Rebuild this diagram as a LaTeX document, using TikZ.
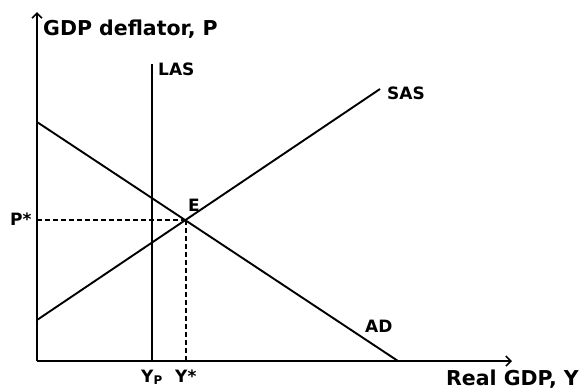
\documentclass[tikz,border=0pt]{standalone}
\usepackage{fontspec}
\setmainfont{DejaVu Sans}
\usetikzlibrary{arrows.meta, positioning}

\tikzset{
  curve/.style={line width=1.9pt},
  axis/.style={curve, -{Straight Barb[length=5pt, width=10pt, line width=1.6pt]}},
  guide/.style={line width=1.5pt, dash pattern=on 5pt off 3pt},
  axislabel/.style={font=\fontsize{20.5}{24}\selectfont\bfseries, inner sep=0pt, anchor=base west},
  curvelabel/.style={font=\fontsize{17}{20}\selectfont\bfseries, inner sep=0pt, anchor=base west},
}

\begin{document}
\begin{tikzpicture}[x=1pt, y=-1pt]
\useasboundingbox (0,0) rectangle (581,389);

% Axes
\coordinate (origin) at (37,361);
\coordinate (ytop) at (37,12);
\coordinate (xend) at (512,361);
\draw[axis] (origin) -- (ytop);
\draw[axis] (origin) -- (xend);
\node[axislabel] (ylabel) at (43,35) {GDP deflator, P};
\node[axislabel] (xlabel) at (446,385) {Real GDP, Y};

% Long-run supply
\coordinate (lastop) at (152,64);
\coordinate (lasbot) at (152,361);
\draw[curve] (lasbot) -- (lastop);
\node[curvelabel] (las) at (158,75) {LAS};

% Short-run supply
\coordinate (sasleft) at (37,320);
\coordinate (sasright) at (380,89);
\draw[curve] (sasleft) -- (sasright);
\node[curvelabel] (sas) at (387,99) {SAS};

% Demand
\coordinate (adleft) at (37,122);
\coordinate (adright) at (398,361);
\draw[curve] (adleft) -- (adright);
\node[curvelabel] (ad) at (365,332) {AD};

% Equilibrium
\coordinate (eq) at (186,220);
\coordinate (pstar) at (37,220);
\coordinate (ystar) at (186,361);
\draw[guide] (pstar) -- (eq);
\draw[guide] (eq) -- (ystar);
\node[curvelabel] (elabel) at (188,211) {E};
\node[curvelabel] (plabel) at (10,225) {P*};
\node[curvelabel] (yplabel) at (141,382) {Y\textsubscript{P}};
\node[curvelabel] (yslabel) at (175,382) {Y*};
\end{tikzpicture}
\end{document}
